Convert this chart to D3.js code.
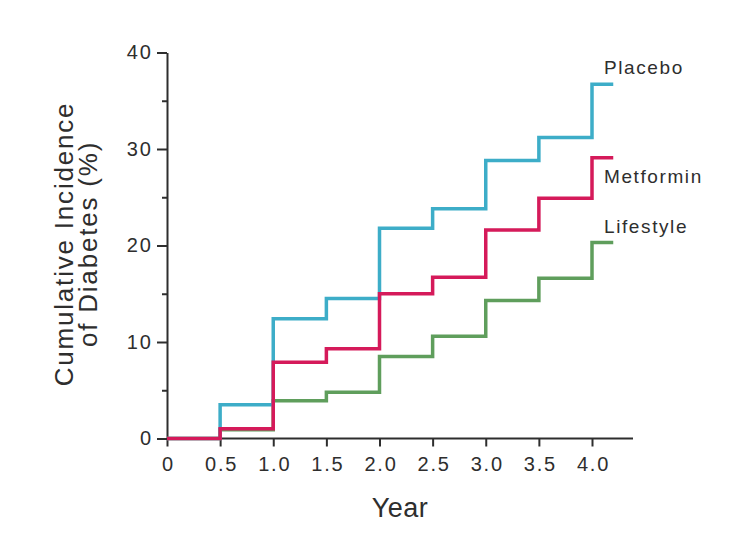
<!DOCTYPE html>
<html><head><meta charset="utf-8">
<script src="https://cdn.jsdelivr.net/npm/d3@7"></script>
<style>body{margin:0;background:#fff;}svg{display:block;font-family:"Liberation Sans",Arial,sans-serif;}</style>
</head><body>
<svg id="c" width="746" height="558"></svg>
<script>
const years = [0, 0.5, 1.0, 1.5, 2.0, 2.5, 3.0, 3.5, 4.0, 4.2];
const placebo   = [0, 3.5, 12.4, 14.5, 21.8, 23.8, 28.8, 31.2, 36.7, 36.7];
const metformin = [0, 1.0, 7.9, 9.3, 15.0, 16.7, 21.6, 24.9, 29.1, 29.1];
const lifestyle = [0, 0.9, 3.9, 4.8, 8.5, 10.6, 14.3, 16.6, 20.3, 20.3];
const xTicks = [0, 0.5, 1.0, 1.5, 2.0, 2.5, 3.0, 3.5, 4.0];
const xTickLabels = ["0", "0.5", "1.0", "1.5", "2.0", "2.5", "3.0", "3.5", "4.0"];
const yMajor = [0, 10, 20, 30, 40];
const yMinor = [5, 15, 25, 35];
const seriesNames = ["Lifestyle", "Placebo", "Metformin"];
const seriesColors = {Placebo: "#3dadc8", Metformin: "#d51a5a", Lifestyle: "#5f9e5c"};
const seriesData = {Placebo: placebo, Metformin: metformin, Lifestyle: lifestyle};

const svg = d3.select("#c");
const x = d3.scaleLinear().domain([0, 4.0]).range([167, 592]);
const y = d3.scaleLinear().domain([0, 40]).range([438.5, 52.5]);
const ink = "#2e2e2e";

// axes
const xAxis = svg.append("g").attr("transform", `translate(0,${y(0)})`)
  .call(d3.axisBottom(x).tickValues(xTicks).tickFormat((d,i)=>xTickLabels[i]).tickSize(8).tickPadding(10).tickSizeOuter(0));
xAxis.select(".domain").remove();
xAxis.append("line").attr("x1", x(0)).attr("x2", 633).attr("y1",0).attr("y2",0).attr("stroke", ink).attr("stroke-width", 2);
xAxis.selectAll(".tick line").attr("stroke", ink).attr("stroke-width", 2);
xAxis.selectAll(".tick text").attr("fill", ink).attr("font-size", 20).attr("letter-spacing", 1.8).attr("dx", 1);

const yAxis = svg.append("g").attr("transform", `translate(${x(0)},0)`)
  .call(d3.axisLeft(y).tickValues(yMajor).tickSize(10).tickPadding(4).tickSizeOuter(0));
yAxis.select(".domain").attr("stroke", ink).attr("stroke-width", 2);
yAxis.selectAll(".tick line").attr("stroke", ink).attr("stroke-width", 2);
yAxis.selectAll(".tick text").attr("fill", ink).attr("font-size", 20).attr("letter-spacing", 2);
const yAxisMinor = svg.append("g").attr("transform", `translate(${x(0)},0)`)
  .call(d3.axisLeft(y).tickValues(yMinor).tickSize(5).tickFormat(""));
yAxisMinor.select(".domain").remove();
yAxisMinor.selectAll(".tick line").attr("stroke", ink).attr("stroke-width", 2);

// lines
const line = d3.line().x(d=>x(d[0])).y(d=>y(d[1])).curve(d3.curveStepAfter);
seriesNames.forEach(name => {
  const pts = years.map((yr,i)=>[yr, seriesData[name][i]]);
  svg.append("path").datum(pts).attr("d", line)
    .attr("fill","none").attr("stroke", seriesColors[name]).attr("stroke-width", 3.5);
});

// labels
const lab = (t, yy) => svg.append("text").attr("x", 604).attr("y", yy).text(t)
  .attr("fill", ink).attr("font-size", 19).attr("letter-spacing", 1.6);
lab("Placebo", 74); lab("Metformin", 183); lab("Lifestyle", 233);

// axis titles
svg.append("text").attr("x", 400).attr("y", 517).attr("text-anchor","middle")
  .attr("fill", ink).attr("font-size", 27).attr("letter-spacing", 0.5).text("Year");
const yt = svg.append("text").attr("transform","translate(0,244) rotate(-90)").attr("text-anchor","middle")
  .attr("fill", ink).attr("font-size", 26).attr("letter-spacing", 1.8);
yt.append("tspan").attr("x",0).attr("y",73).text("Cumulative Incidence");
yt.append("tspan").attr("x",0).attr("y",97).text("of Diabetes (%)");
</script>
</body></html>
